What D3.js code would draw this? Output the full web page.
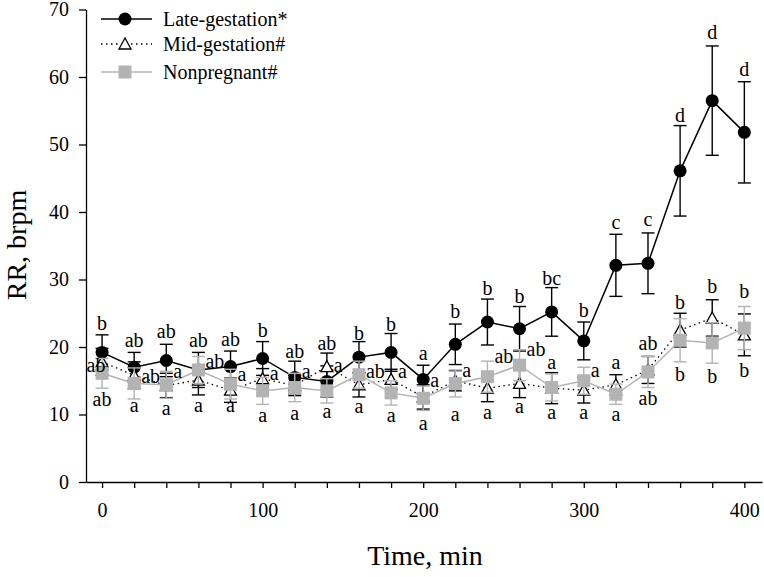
<!DOCTYPE html>
<html><head><meta charset="utf-8">
<script src="https://cdn.jsdelivr.net/npm/d3@7"></script>
<style>body{margin:0;background:#fff}svg{display:block}text{font-family:"Liberation Serif","Times New Roman",serif;fill:#000}</style>
</head><body><svg id="c" width="764" height="577"></svg>
<script>
const times=[0,20,40,60,80,100,120,140,160,180,200,220,240,260,280,300,320,340,360,380,400];
const lateMean=[19.2,17.0,18.0,16.6,17.1,18.3,15.5,14.9,18.5,19.2,15.2,20.4,23.7,22.7,25.2,20.9,32.1,32.4,46.1,56.5,51.8];
const lateSE=[2.6,2.2,2.4,2.6,2.3,2.5,2.4,2.3,2.3,2.8,2.1,3.0,3.4,3.3,3.6,2.8,4.6,4.5,6.7,8.1,7.5];
const midMean=[17.8,15.8,14.3,15.1,13.6,15.3,14.3,17.1,14.4,15.2,12.6,15.0,13.9,14.6,13.9,13.6,14.4,16.6,22.5,24.3,21.8];
const midSE=[2.0,2.0,1.8,2.2,1.8,1.5,1.5,2.0,1.8,1.5,1.8,1.5,2.0,2.1,2.3,1.9,1.5,2.0,2.5,2.7,3.1];
const npMean=[16.1,14.6,14.4,16.6,14.5,13.5,14.0,13.5,15.9,13.2,12.4,14.6,15.6,17.3,14.0,15.0,13.0,16.3,21.0,20.6,22.8];
const npSE=[2.2,2.3,2.0,2.0,2.2,2.0,2.1,1.8,2.0,1.8,1.8,2.0,2.3,2.3,2.0,2.0,1.5,2.3,3.2,3.0,3.2];
const seriesNames=["Late-gestation*","Mid-gestation#","Nonpregnant#"];
const yTicks=[0,10,20,30,40,50,60,70];
const xMajor=[0,100,200,300,400];
const xMinor=[0,20,40,60,80,100,120,140,160,180,200,220,240,260,280,300,320,340,360,380,400];
// significance letters: [time, text, RR level of baseline, side]
const letters=[
[0,"b",22.5,"c"],[0,"ab",16.3,"l"],[0,"ab",11.2,"c"],
[20,"ab",20.0,"c"],[20,"ab",14.6,"r"],[20,"a",10.3,"c"],
[40,"ab",21.3,"c"],[40,"a",15.4,"r"],[40,"a",9.9,"c"],
[60,"ab",20.0,"c"],[60,"ab",16.9,"r"],[60,"a",10.3,"c"],
[80,"ab",20.2,"c"],[80,"a",14.9,"r"],[80,"a",10.3,"c"],
[100,"b",21.5,"c"],[100,"a",15.1,"r"],[100,"a",8.9,"c"],
[120,"ab",18.3,"c"],[120,"a",15.4,"r"],[120,"a",9.2,"c"],
[140,"ab",19.6,"c"],[140,"a",16.3,"r"],[140,"a",9.5,"c"],
[160,"b",21.0,"c"],[160,"ab",15.4,"r"],[160,"a",10.2,"c"],
[180,"b",22.3,"c"],[180,"a",15.4,"r"],[180,"a",8.9,"c"],
[200,"a",18.1,"c"],[200,"a",14.1,"r"],[200,"a",7.7,"c"],
[220,"b",24.3,"c"],[220,"a",15.6,"r"],[220,"a",9.0,"c"],
[240,"b",27.7,"c"],[240,"ab",17.7,"r"],[240,"a",9.4,"c"],
[260,"b",26.5,"c"],[260,"ab",18.6,"r"],[260,"a",10.2,"c"],
[280,"bc",29.2,"c"],[280,"a",16.8,"c"],[280,"a",9.4,"c"],
[300,"b",24.5,"c"],[300,"a",15.6,"r"],[300,"a",9.4,"c"],
[320,"c",37.5,"c"],[320,"a",16.8,"c"],[320,"a",9.1,"c"],
[340,"c",38.0,"c"],[340,"ab",19.6,"c"],[340,"ab",11.4,"c"],
[360,"d",53.4,"c"],[360,"b",25.7,"c"],[360,"b",14.9,"c"],
[380,"d",65.6,"c"],[380,"b",28.0,"c"],[380,"b",14.6,"c"],
[400,"d",60.2,"c"],[400,"b",27.2,"c"],[400,"b",15.6,"c"]
];

const svg=d3.select("#c");
const x=d3.scaleLinear().domain([-10,411]).range([86,762]);
const y=d3.scaleLinear().domain([0,70]).range([482,9.5]);
const grey="#b3b3b3";

// axes
const yAx=svg.append("g").attr("transform","translate(86,0)")
  .call(d3.axisLeft(y).tickValues(yTicks).tickSize(7).tickSizeOuter(0).tickPadding(10));
yAx.selectAll("text").attr("font-size",20).attr("font-family","Liberation Serif");
yAx.select(".domain").attr("stroke-width",1.3);
yAx.selectAll(".tick line").attr("stroke-width",1.3);

const xAx=svg.append("g").attr("transform","translate(0,482)")
  .call(d3.axisBottom(x).tickValues(xMinor).tickSize(6).tickSizeOuter(0).tickPadding(15)
    .tickFormat(d=>xMajor.includes(d)?d:""));
xAx.selectAll("text").attr("font-size",20).attr("font-family","Liberation Serif");
xAx.select(".domain").attr("stroke-width",1.3);
xAx.selectAll(".tick line").attr("stroke-width",1.3);

svg.append("text").attr("x",425).attr("y",565).attr("text-anchor","middle")
  .attr("font-size",28).text("Time, min");
svg.append("text").attr("transform","translate(26,245) rotate(-90)").attr("text-anchor","middle")
  .attr("font-size",28).text("RR, brpm");

function drawSeries(means,ses,color,dash,marker){
  const g=svg.append("g");
  const data=times.map((t,i)=>({t,m:means[i],s:ses[i]}));
  g.append("path").datum(data)
    .attr("d",d3.line().x(d=>x(d.t)).y(d=>y(d.m)))
    .attr("fill","none").attr("stroke",color).attr("stroke-width",dash?1.3:1.5)
    .attr("stroke-dasharray",dash||null);
  const eb=g.selectAll("g.eb").data(data).join("g").attr("stroke",marker==="tri"?"#000":color).attr("stroke-width",1.4);
  eb.append("line").attr("x1",d=>x(d.t)).attr("x2",d=>x(d.t)).attr("y1",d=>y(d.m+d.s)).attr("y2",d=>y(d.m-d.s));
  eb.append("line").attr("x1",d=>x(d.t)-6.5).attr("x2",d=>x(d.t)+6.5).attr("y1",d=>y(d.m+d.s)).attr("y2",d=>y(d.m+d.s));
  eb.append("line").attr("x1",d=>x(d.t)-6.5).attr("x2",d=>x(d.t)+6.5).attr("y1",d=>y(d.m-d.s)).attr("y2",d=>y(d.m-d.s));
  drawMarkers(g,data.map(d=>[x(d.t),y(d.m)]),color,marker);
}
function drawMarkers(g,pts,color,marker){
  if(marker==="circle"){
    g.selectAll("circle.mk").data(pts).join("circle").attr("cx",d=>d[0]).attr("cy",d=>d[1]).attr("r",6.5).attr("fill","#000");
  }else if(marker==="tri"){
    g.selectAll("path.mk").data(pts).join("path")
      .attr("d",d=>`M${d[0]},${d[1]-6}L${d[0]+6},${d[1]+5}L${d[0]-6},${d[1]+5}Z`)
      .attr("fill","#fff").attr("stroke","#000").attr("stroke-width",1.3);
  }else{
    g.selectAll("rect.mk").data(pts).join("rect").attr("x",d=>d[0]-6.5).attr("y",d=>d[1]-6.5)
      .attr("width",13).attr("height",13).attr("fill",color);
  }
}
drawSeries(lateMean,lateSE,"#000",null,"circle");
drawSeries(midMean,midSE,"#000","1.5,3.5","tri");
drawSeries(npMean,npSE,grey,null,"square");

// letters
svg.append("g").selectAll("text").data(letters).join("text")
  .attr("x",d=>x(d[0])+(d[3]==="r"?7:d[3]==="l"?-6:0))
  .attr("y",d=>y(d[2]))
  .attr("text-anchor",d=>d[3]==="r"?"start":"middle")
  .attr("font-size",20).text(d=>d[1]);

// legend
const legY=[19,44,72];
const legStyle=[["#000",null,"circle"],["#000","1.5,3.5","tri"],[grey,null,"square"]];
const lg=svg.append("g");
seriesNames.forEach((n,i)=>{
  const [c,dash,mk]=legStyle[i];
  lg.append("line").attr("x1",101).attr("x2",152).attr("y1",legY[i]).attr("y2",legY[i])
    .attr("stroke",c).attr("stroke-width",dash?1.3:1.5).attr("stroke-dasharray",dash);
  drawMarkers(lg.append("g"),[[125,legY[i]]],c,mk);
  lg.append("text").attr("x",163).attr("y",legY[i]+7).attr("font-size",20).text(n);
});
</script></body></html>
